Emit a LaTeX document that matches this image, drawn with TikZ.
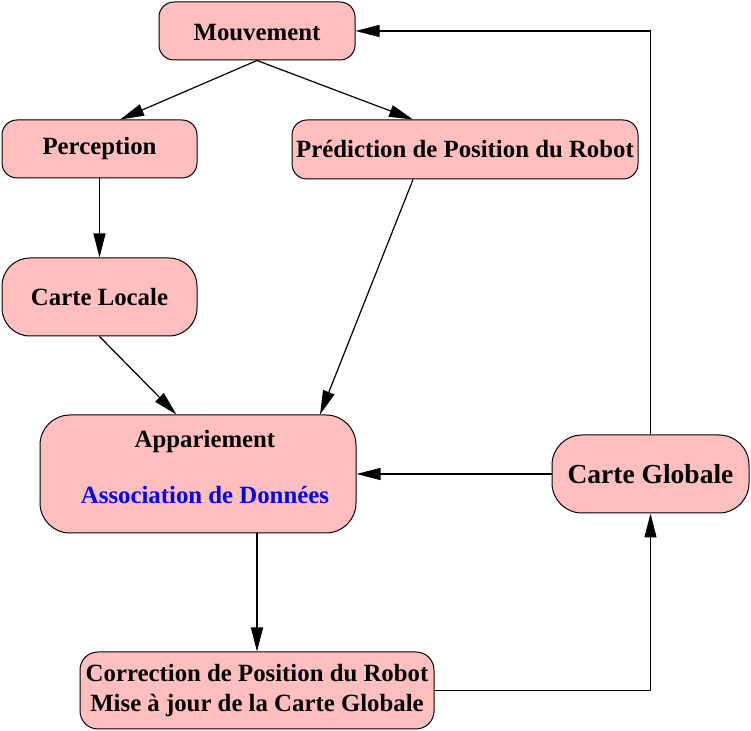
\documentclass[tikz,border=0pt]{standalone}
\usepackage{fontspec}
\setmainfont{Liberation Serif}
\usepackage{tikz}
\usetikzlibrary{arrows.meta}
\definecolor{rose}{RGB}{255,191,191}

\begin{document}
\begin{tikzpicture}[x=0.5pt,y=-0.5pt,
    etape/.style={draw=black,fill=rose,line width=0.5pt,rounded corners=7.5pt,
        inner sep=0pt,align=center,font=\fontsize{12.4}{15}\selectfont\bfseries},
    fleche/.style={line width=0.6pt,-{Triangle[length=12pt,width=6pt]}}]
\useasboundingbox (0,0) rectangle (751,731);

\node[etape,minimum width=98pt,minimum height=29pt,text height=10pt,text depth=0pt] (mouv) at (257,31) {Mouvement};
\node[etape,minimum width=97.5pt,minimum height=29pt] (perc) at (99.5,149) {Perception};
\node[etape,minimum width=173pt,minimum height=29.5pt] (pred) at (465,149.5) {Prédiction de Position du Robot};
\node[etape,minimum width=97.5pt,minimum height=39pt,rounded corners=14pt] (loc) at (99.5,297) {Carte Locale};
\node[etape,minimum width=158pt,minimum height=59pt,rounded corners=15pt] (appar) at (198,474) {};
\node[align=center,font=\fontsize{12.4}{14}\selectfont\bfseries] (apptxt) at (205,467)
    {Appariement\\[14pt]\textcolor{blue}{Association de Données}};
\node[etape,minimum width=98.5pt,minimum height=39pt,rounded corners=15pt,
    font=\fontsize{13.75}{16}\selectfont\bfseries] (glob) at (650.5,474) {Carte Globale};
\node[etape,minimum width=177pt,minimum height=38.5pt,rounded corners=9pt] (corr) at (257,690.5)
    {Correction de Position du Robot\\Mise à jour de la Carte Globale};

\draw[fleche] (mouv.south) -- (perc.55);
\draw[fleche] (mouv.south) -- (pred.150);
\draw[fleche] (perc.south) -- (loc.north);
\draw[fleche] (pred.210) -- (appar.26);
\draw[fleche] (loc.south) -- (appar.110);
\draw[fleche] (glob.west) -- (appar.east);
\draw[fleche] (glob.north) |- (mouv.east);
\draw[fleche] (corr.north |- appar.south) -- (corr.north);
\draw[fleche] (corr.east) -| (glob.south);
\end{tikzpicture}
\end{document}
